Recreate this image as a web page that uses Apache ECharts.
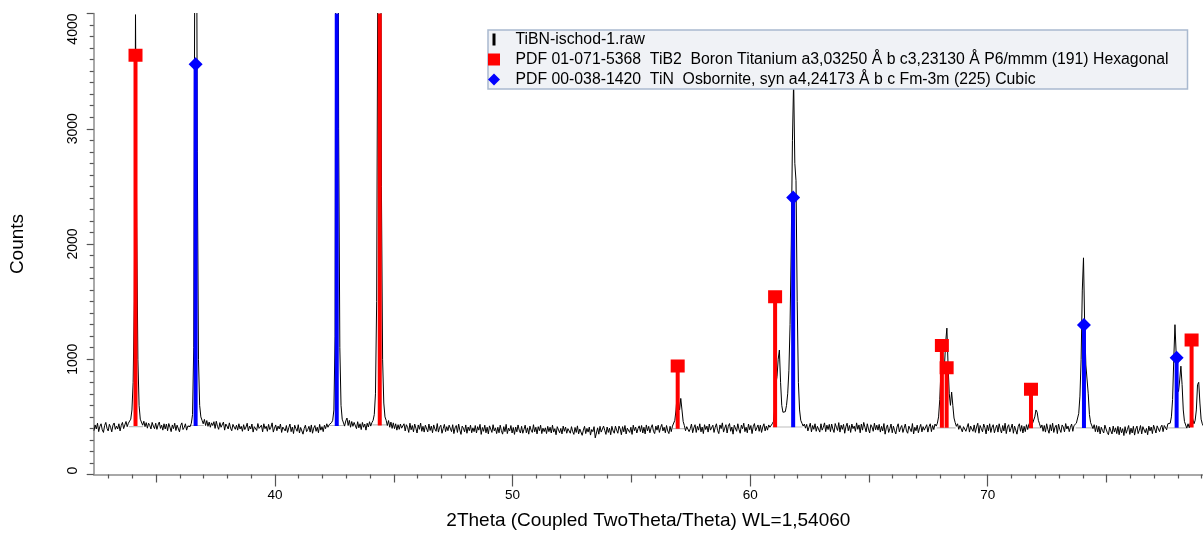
<!DOCTYPE html>
<html>
<head>
<meta charset="utf-8">
<script src="https://cdn.jsdelivr.net/npm/echarts@6/dist/echarts.min.js"></script>
<style>
html,body{margin:0;padding:0;background:#ffffff;}
#chart{width:1203px;height:536px;}
</style>
</head>
<body>
<div id="chart"></div>
<script>
// ---- scan description (measured 2Theta scan) ----
const scanStart = 32.38;
const scanStep = 0.05;
// counts, one row per degree (20 steps of 0.05)
const rawCounts = [
  380, 430, 395, 445, 372, 418, 440, 388, 365, 425, 452, 400, 378, 436, 410, 370, 428, 447, 392, 420,
  395, 440, 378, 425, 452, 398, 430, 460, 415, 445, 455, 480, 560, 800, 1500, 3990, 2150, 1000, 600, 480,
  470, 428, 462, 415, 450, 402, 445, 425, 395, 452, 420, 398, 445, 392, 430, 455, 400, 428, 385, 440,
  395, 438, 380, 442, 410, 372, 430, 398, 445, 382, 428, 412, 370, 425, 448, 390, 408, 440, 385, 420,
  430, 415, 445, 520, 1100, 5000, 6500, 2800, 1000, 600, 500, 470, 440, 478, 425, 468, 418, 455, 410, 448,
  425, 458, 400, 462, 418, 392, 450, 410, 398, 455, 385, 438, 420, 395, 448, 402, 380, 435, 412, 392,
  428, 385, 440, 395, 418, 375, 432, 390, 412, 445, 378, 420, 395, 438, 368, 415, 430, 382, 442, 400,
  385, 428, 370, 440, 398, 418, 375, 435, 390, 410, 448, 368, 402, 430, 380, 420, 395, 438, 365, 412,
  410, 378, 425, 365, 405, 438, 372, 412, 355, 428, 398, 375, 432, 360, 408, 422, 350, 400, 428, 372,
  390, 418, 368, 430, 358, 402, 425, 375, 410, 362, 435, 385, 415, 372, 428, 398, 440, 410, 432, 445,
  450, 470, 560, 1200, 7500, 8000, 3000, 1100, 600, 480, 470, 420, 465, 490, 425, 470, 410, 460, 418, 452,
  445, 398, 458, 405, 440, 390, 452, 410, 438, 385, 445, 412, 458, 420, 450, 470, 520, 700, 1500, 4500,
  8000, 7000, 2500, 1000, 620, 500, 470, 425, 468, 410, 455, 400, 448, 398, 440, 385, 432, 392, 438, 402,
  395, 440, 378, 432, 410, 365, 445, 388, 425, 370, 438, 402, 360, 430, 392, 446, 375, 418, 368, 428,
  412, 370, 438, 382, 420, 362, 430, 395, 375, 442, 368, 410, 428, 358, 398, 435, 372, 415, 380, 428,
  418, 372, 432, 355, 405, 425, 365, 438, 385, 348, 420, 402, 370, 430, 358, 412, 380, 428, 362, 405,
  372, 425, 360, 415, 385, 435, 348, 408, 375, 428, 362, 410, 352, 422, 395, 365, 432, 378, 405, 355,
  410, 362, 428, 380, 350, 415, 372, 435, 355, 402, 378, 425, 360, 408, 348, 412, 370, 430, 385, 360,
  418, 358, 392, 428, 362, 405, 350, 420, 385, 365, 432, 370, 410, 352, 415, 380, 428, 355, 402, 372,
  405, 355, 418, 372, 410, 360, 428, 368, 398, 345, 415, 425, 362, 400, 352, 420, 375, 412, 358, 398,
  402, 358, 415, 372, 348, 408, 365, 422, 352, 395, 410, 340, 385, 418, 355, 400, 368, 412, 342, 390,
  372, 415, 318, 360, 405, 350, 418, 368, 355, 420, 382, 348, 412, 365, 402, 345, 418, 378, 358, 420,
  385, 358, 420, 395, 345, 415, 370, 425, 352, 402, 418, 365, 410, 348, 428, 380, 412, 360, 398, 422,
  372, 425, 360, 410, 352, 430, 378, 418, 362, 405, 432, 375, 355, 420, 385, 428, 365, 408, 435, 378,
  410, 362, 425, 378, 355, 418, 372, 420, 430, 470, 560, 700, 640, 560, 660, 560, 460, 425, 380, 415,
  428, 372, 398, 438, 362, 405, 432, 365, 418, 385, 440, 370, 412, 355, 432, 390, 420, 368, 438, 385,
  372, 428, 365, 410, 440, 382, 355, 430, 398, 448, 368, 402, 432, 360, 418, 442, 375, 412, 350, 428,
  418, 375, 440, 392, 358, 428, 398, 445, 372, 410, 362, 438, 388, 425, 355, 415, 442, 378, 405, 430,
  375, 428, 365, 412, 440, 378, 420, 385, 430, 410, 425, 440, 460, 560, 780, 850, 1000, 1080, 800, 600,
  540, 525, 545, 600, 700, 900, 1300, 2000, 2900, 3420, 2700, 2550, 1500, 800, 560, 470, 445, 420, 438, 402,
  435, 378, 412, 445, 370, 425, 392, 440, 375, 418, 432, 368, 440, 385, 410, 448, 372, 428, 390, 435,
  372, 438, 395, 365, 442, 410, 382, 450, 368, 428, 392, 435, 358, 415, 445, 380, 425, 365, 438, 398,
  420, 375, 448, 392, 430, 362, 438, 385, 452, 410, 370, 440, 395, 360, 432, 412, 375, 445, 388, 428,
  385, 435, 368, 418, 378, 442, 350, 405, 430, 365, 398, 438, 362, 420, 380, 352, 412, 440, 370, 405,
  425, 365, 402, 438, 378, 358, 420, 395, 372, 442, 352, 410, 380, 428, 362, 405, 435, 370, 415, 385,
  380, 432, 368, 415, 440, 372, 425, 390, 438, 420, 445, 500, 650, 900, 1080, 900, 950, 1150, 1270, 950,
  700, 600, 715, 600, 490, 450, 418, 440, 392, 425, 438, 370, 415, 432, 375, 410, 442, 368, 420, 395,
  375, 430, 365, 412, 445, 358, 425, 398, 370, 438, 405, 352, 428, 380, 440, 365, 410, 432, 362, 400,
  428, 368, 440, 392, 360, 425, 378, 445, 355, 412, 432, 370, 402, 438, 358, 420, 385, 350, 415, 440,
  375, 425, 360, 418, 372, 432, 390, 435, 440, 470, 440, 450, 500, 560, 540, 470, 440, 405, 430, 375,
  425, 368, 440, 390, 358, 432, 378, 445, 365, 410, 428, 355, 438, 392, 365, 430, 412, 370, 442, 395,
  420, 372, 410, 438, 375, 425, 440, 445, 460, 530, 680, 1000, 1600, 1880, 1300, 950, 960, 700, 520, 450,
  440, 398, 432, 372, 425, 368, 418, 352, 410, 382, 360, 428, 395, 365, 345, 412, 378, 352, 420, 368,
  405, 355, 418, 345, 410, 362, 398, 338, 415, 358, 392, 425, 348, 402, 360, 418, 342, 395, 420, 355,
  385, 425, 352, 415, 432, 362, 400, 345, 420, 378, 412, 355, 428, 395, 360, 422, 438, 372, 410, 428,
  372, 425, 438, 388, 440, 425, 445, 500, 650, 1000, 1300, 1050, 760, 720, 820, 940, 780, 560, 460, 430,
  402, 440, 405, 450, 520, 480, 440, 470, 560, 780, 800, 620, 480, 440, 420
];

// ---- reference patterns (stick position, stick top, stick base = background) ----
const tib2Positions = [34.13, 44.41, 56.95, 61.05, 68.07, 68.27, 71.82, 78.58];
const tib2Tops      = [3638, 5900, 941, 1542, 1120, 926, 739, 1166];
const tib2Bases     = [420, 425, 398, 410, 405, 405, 402, 408];

const tinPositions = [36.66, 42.60, 61.81, 74.05, 77.95];
const tinTops      = [3560, 4850, 2404, 1297, 1013];
const tinBases     = [420, 420, 410, 403, 405];

// background segments under peaks: [from, to, level]
const bgFrom  = [33.85, 36.35, 42.30, 44.10, 56.75, 60.95, 67.85, 71.70, 73.70, 77.60];
const bgTo    = [34.45, 37.00, 42.90, 44.75, 57.25, 62.20, 68.65, 72.25, 74.40, 78.35];
const bgLevel = [415, 425, 425, 430, 398, 412, 405, 405, 405, 405];

// ---- axis ticks / labels ----
const xLabelValues = [40, 50, 60, 70];
const xMidTicks = [35, 45, 55, 65, 75];
const xMinorTicks = [33, 34, 36, 37, 38, 39, 41, 42, 43, 44, 46, 47, 48, 49, 51, 52, 53, 54, 56, 57, 58, 59,
                     61, 62, 63, 64, 66, 67, 68, 69, 71, 72, 73, 74, 76, 77, 78, 79];
const xMin = 32.37, xMax = 79.06;

const rawName = 'TiBN-ischod-1.raw';
const tib2Name = 'PDF 01-071-5368  TiB2  Boron Titanium a3,03250 Å b c3,23130 Å P6/mmm (191) Hexagonal';
const tinName = 'PDF 00-038-1420  TiN  Osbornite, syn a4,24173 Å b c Fm-3m (225) Cubic';
const xTitle = '2Theta (Coupled TwoTheta/Theta) WL=1,54060';
const yTitle = 'Counts';

// ---- build datasets ----
const rawData = rawCounts.map((c, i) => [Number((scanStart + i * scanStep).toFixed(2)), c]);
const tib2Data = tib2Positions.map((p, i) => [p, tib2Tops[i], tib2Bases[i]]);
const tinData = tinPositions.map((p, i) => [p, tinTops[i], tinBases[i]]);
const bgData = bgFrom.map((f, i) => [f, bgTo[i], bgLevel[i]]);

const FONT = "'Liberation Sans', Arial, sans-serif";

function stickRenderer(kind) {
  return function (params, api) {
    const x = api.value(0), top = api.value(1), base = api.value(2);
    const pTop = api.coord([x, top]);
    const pBase = api.coord([x, base]);
    const color = api.visual('color');
    const children = [{
      type: 'rect',
      shape: { x: pTop[0] - 2, y: pTop[1], width: 4, height: pBase[1] - pTop[1] },
      style: { fill: color }
    }];
    if (kind === 'square') {
      children.push({ type: 'rect', shape: { x: pTop[0] - 7, y: pTop[1] - 6.5, width: 14, height: 13 }, style: { fill: color } });
    } else {
      children.push({ type: 'polygon', shape: { points: [[pTop[0], pTop[1] - 7], [pTop[0] + 7, pTop[1]], [pTop[0], pTop[1] + 7], [pTop[0] - 7, pTop[1]]] }, style: { fill: color } });
    }
    return { type: 'group', children: children };
  };
}

function bgRenderer(params, api) {
  const a = api.coord([api.value(0), api.value(2)]);
  const b = api.coord([api.value(1), api.value(2)]);
  return { type: 'line', shape: { x1: a[0], y1: a[1], x2: b[0], y2: b[1] }, style: { stroke: '#bdbdbd', lineWidth: 1.2 } };
}

const chart = echarts.init(document.getElementById('chart'), null, { renderer: 'canvas' });

const baseX = { type: 'value', min: xMin, max: xMax, position: 'bottom', splitLine: { show: false } };

chart.setOption({
  animation: false,
  backgroundColor: '#ffffff',
  textStyle: { fontFamily: FONT },
  grid: { left: 93.7, right: 0, top: 13.5, bottom: 61.5 },
  legend: {
    orient: 'vertical',
    left: 488,
    top: 30,
    padding: [0, 19, 0, 0],
    itemWidth: 23,
    itemHeight: 12,
    itemGap: 1,
    backgroundColor: '#f0f2f6',
    borderColor: '#a9b9cf',
    borderWidth: 1.5,
    selectedMode: false,
    textStyle: { fontFamily: FONT, fontSize: 15.8, color: '#000', lineHeight: 19, padding: [0, 0, 0, 5] },
    data: [
      { name: rawName, icon: 'path://M0,0h3v12h-3z' },
      { name: tib2Name, icon: 'path://M0,0h12v12h-12z' },
      { name: tinName, icon: 'path://M6,0L12,6L6,12L0,6z' }
    ]
  },
  xAxis: [
    Object.assign({}, baseX, {
      name: xTitle,
      nameLocation: 'middle',
      nameGap: 37,
      nameTextStyle: { fontFamily: FONT, fontSize: 19, color: '#000' },
      axisLine: { show: true, lineStyle: { color: '#8c8c8c', width: 1.5 } },
      axisTick: { show: true, customValues: xLabelValues, length: 12, lineStyle: { color: '#555', width: 1.2 } },
      axisLabel: { show: true, customValues: xLabelValues, margin: 14, fontFamily: FONT, fontSize: 13.5, color: '#000' }
    }),
    Object.assign({}, baseX, {
      axisLine: { show: false },
      axisTick: { show: true, customValues: xMidTicks, length: 8, lineStyle: { color: '#555', width: 1.2 } },
      axisLabel: { show: false }
    }),
    Object.assign({}, baseX, {
      axisLine: { show: false },
      axisTick: { show: true, customValues: xMinorTicks, length: 4, lineStyle: { color: '#555', width: 1.2 } },
      axisLabel: { show: false }
    })
  ],
  yAxis: {
    type: 'value',
    min: 0,
    max: 4000,
    interval: 1000,
    name: yTitle,
    nameLocation: 'middle',
    nameGap: 66,
    nameRotate: 90,
    nameTextStyle: { fontFamily: FONT, fontSize: 19, color: '#000' },
    splitLine: { show: false },
    axisLine: { show: true, lineStyle: { color: '#8c8c8c', width: 1.5 } },
    axisTick: { show: true, length: 7, lineStyle: { color: '#555', width: 1.2 } },
    minorTick: { show: true, splitNumber: 10, length: 4, lineStyle: { color: '#555', width: 1.2 } },
    axisLabel: {
      rotate: 90, margin: 14, fontFamily: FONT, fontSize: 14, color: '#000',
      alignMinLabel: 'left', alignMaxLabel: 'right',
      formatter: function (v) { return String(v); }
    }
  },
  series: [
    {
      name: 'background',
      type: 'custom',
      renderItem: bgRenderer,
      clip: true,
      encode: { x: [0, 1], y: 2 },
      data: bgData,
      z: 1,
      silent: true
    },
    {
      name: rawName,
      type: 'line',
      data: rawData,
      showSymbol: false,
      symbol: 'none',
      clip: true,
      lineStyle: { color: '#000', width: 1 },
      itemStyle: { color: '#000' },
      z: 2
    },
    {
      name: tib2Name,
      type: 'custom',
      renderItem: stickRenderer('square'),
      clip: true,
      encode: { x: 0, y: 1 },
      itemStyle: { color: '#ff0000' },
      data: tib2Data,
      z: 3
    },
    {
      name: tinName,
      type: 'custom',
      renderItem: stickRenderer('diamond'),
      clip: true,
      encode: { x: 0, y: 1 },
      itemStyle: { color: '#0000ff' },
      data: tinData,
      z: 3
    }
  ]
});
</script>
</body>
</html>
